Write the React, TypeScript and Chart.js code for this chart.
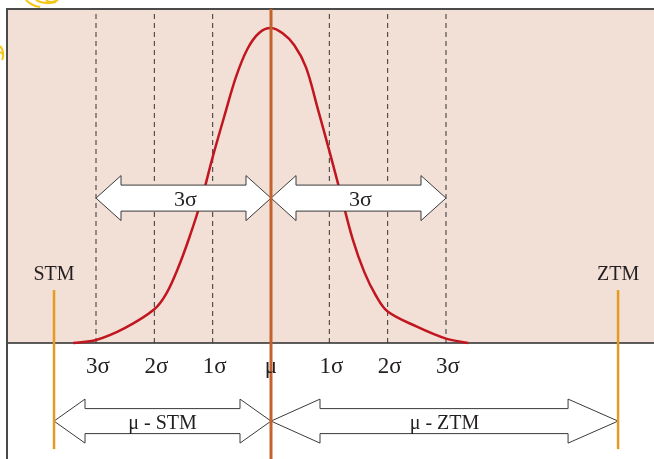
import React, { useEffect, useRef } from "react";
import { Chart, registerables } from "chart.js";

Chart.register(...registerables);

// ---- data (σ units on x, relative density on y) ----
const CURVE_SIGMA = [-3.39, -3.0, -2.5, -2.0, -1.8, -1.6, -1.4, -1.2, -1.0, -0.8, -0.6, -0.4, -0.2, 0, 0.2, 0.4, 0.6, 0.8, 1.0, 1.2, 1.4, 1.6, 1.8, 2.0, 2.5, 3.0, 3.38];
const CURVE_DENSITY = [0, 0.0095, 0.048, 0.107, 0.155, 0.235, 0.335, 0.45, 0.59, 0.72, 0.845, 0.935, 0.985, 1.0, 0.983, 0.945, 0.875, 0.745, 0.61, 0.47, 0.33, 0.225, 0.15, 0.1, 0.052, 0.014, 0];
const SIGMA_POSITIONS = [-3, -2, -1, 0, 1, 2, 3];
const SIGMA_LABELS = ["3σ", "2σ", "1σ", "μ", "1σ", "2σ", "3σ"];
const DASHED_POSITIONS = [-3, -2, -1, 1, 2, 3];
const LIMIT_POSITIONS = [-3.72, 5.95];
const LIMIT_LABELS = ["STM", "ZTM"];
const SPAN_LABELS = ["μ - STM", "μ - ZTM"];
const SIGMA_SPAN_LABEL = "3σ";

// ---- layout constants (in axis units) ----
const X_MIN = -4.646;
const X_MAX = 6.566;
const Y_MIN = -0.3683;
const Y_MAX = 1.0889;
const FRAME_LEFT = -4.526;
const FRAME_TOP = 1.0603;
const LIMIT_TOP = 0.168;
const LIMIT_BOTTOM = -0.337;
const SIGMA_ARROW_Y = 0.46;
const SPAN_ARROW_Y = -0.248;

const SERIF = '"Liberation Serif", "Times New Roman", serif';
const TEXT = "#231f20";

function arrow(ctx: CanvasRenderingContext2D, x0: number, x1: number, yc: number, hl0: number, hl1: number, sh: number, hh: number) {
  ctx.beginPath();
  ctx.moveTo(x0, yc);
  ctx.lineTo(x0 + hl0, yc - hh);
  ctx.lineTo(x0 + hl0, yc - sh);
  ctx.lineTo(x1 - hl1, yc - sh);
  ctx.lineTo(x1 - hl1, yc - hh);
  ctx.lineTo(x1, yc);
  ctx.lineTo(x1 - hl1, yc + hh);
  ctx.lineTo(x1 - hl1, yc + sh);
  ctx.lineTo(x0 + hl0, yc + sh);
  ctx.lineTo(x0 + hl0, yc + hh);
  ctx.closePath();
  ctx.fillStyle = "#ffffff";
  ctx.fill();
  ctx.strokeStyle = "#3a3a3a";
  ctx.lineWidth = 1;
  ctx.stroke();
}

const CURVE_INDEX = 4;

const diagramPlugin = {
  id: "diagram",
  beforeDatasetsDraw(chart: any) {
    const { ctx } = chart;
    const xs = chart.scales.x;
    const ys = chart.scales.y;
    ctx.save();
    ctx.fillStyle = "#f2dfd6";
    const l = xs.getPixelForValue(FRAME_LEFT);
    const t = ys.getPixelForValue(FRAME_TOP);
    const b = ys.getPixelForValue(0);
    ctx.fillRect(l, t, chart.width - l, b - t);
    ctx.restore();
  },
  afterDatasetDraw(chart: any, args: any) {
    if (args.index !== CURVE_INDEX) return;
    const { ctx } = chart;
    const xs = chart.scales.x;
    const ys = chart.scales.y;
    ctx.save();
    const ya = ys.getPixelForValue(SIGMA_ARROW_Y);
    arrow(ctx, xs.getPixelForValue(-3), xs.getPixelForValue(0), ya, 25, 25, 13, 22.5);
    arrow(ctx, xs.getPixelForValue(0), xs.getPixelForValue(3), ya, 25, 25, 13, 22.5);
    const yb = ys.getPixelForValue(SPAN_ARROW_Y);
    arrow(ctx, xs.getPixelForValue(LIMIT_POSITIONS[0]), xs.getPixelForValue(0), yb, 31, 31, 12.5, 22);
    arrow(ctx, xs.getPixelForValue(0), xs.getPixelForValue(LIMIT_POSITIONS[1]), yb, 49, 50, 12.5, 22);
    ctx.restore();
  },
  afterDatasetsDraw(chart: any) {
    const { ctx } = chart;
    const xs = chart.scales.x;
    const ys = chart.scales.y;
    ctx.save();
    ctx.fillStyle = TEXT;
    ctx.textAlign = "center";
    ctx.textBaseline = "alphabetic";
    // sigma tick labels
    ctx.font = "23px " + SERIF;
    const yl = ys.getPixelForValue(-0.0952);
    SIGMA_POSITIONS.forEach((p, i) => {
      const off = p !== 0 ? 2 : 0;
      ctx.fillText(SIGMA_LABELS[i], xs.getPixelForValue(p) + off, yl);
    });
    // 3σ arrow labels
    ctx.font = "22px " + SERIF;
    const ys3 = ys.getPixelForValue(0.435);
    ctx.fillText(SIGMA_SPAN_LABEL, xs.getPixelForValue(-1.5) + 2, ys3);
    ctx.fillText(SIGMA_SPAN_LABEL, xs.getPixelForValue(1.5) + 2, ys3);
    // limit labels
    ctx.font = "20px " + SERIF;
    const yLim = ys.getPixelForValue(0.2);
    LIMIT_POSITIONS.forEach((p, i) => {
      ctx.fillText(LIMIT_LABELS[i], xs.getPixelForValue(p), yLim);
    });
    // span labels
    const ySpan = ys.getPixelForValue(-0.273);
    ctx.fillText(SPAN_LABELS[0], xs.getPixelForValue(LIMIT_POSITIONS[0] / 2), ySpan);
    ctx.fillText(SPAN_LABELS[1], xs.getPixelForValue(LIMIT_POSITIONS[1] / 2), ySpan);
    // small yellow ornament fragments at the top-left corner
    ctx.strokeStyle = "#f5c518";
    ctx.lineWidth = 2;
    ctx.beginPath();
    ctx.moveTo(26, 0);
    ctx.quadraticCurveTo(32, 6, 40, 7);
    ctx.moveTo(36, 0);
    ctx.quadraticCurveTo(44, 5, 56, 2);
    ctx.moveTo(46, 0);
    ctx.quadraticCurveTo(50, 4, 58, 0);
    ctx.moveTo(0, 46);
    ctx.quadraticCurveTo(4, 50, 3, 58);
    ctx.moveTo(0, 52);
    ctx.quadraticCurveTo(5, 54, 2, 60);
    ctx.stroke();
    ctx.restore();
  },
};

export default function App() {
  const ref = useRef<HTMLCanvasElement | null>(null);
  useEffect(() => {
    document.body.style.margin = "0";
    const canvas = ref.current;
    if (!canvas) return;

    const vline = (x: number, y0: number, y1: number) => [
      { x, y: y0 },
      { x, y: y1 },
    ];

    const datasets: any[] = [
      // 0: mu line
      { data: vline(0, Y_MIN, FRAME_TOP), borderColor: "#c4622d", borderWidth: 3 },
      // 1,2: STM/ZTM lines
      { data: vline(LIMIT_POSITIONS[0], LIMIT_BOTTOM, LIMIT_TOP), borderColor: "#e59a22", borderWidth: 2.5 },
      { data: vline(LIMIT_POSITIONS[1], LIMIT_BOTTOM, LIMIT_TOP), borderColor: "#e59a22", borderWidth: 2.5 },
      // 3: frame (top + left border)
      {
        data: [
          { x: X_MAX, y: FRAME_TOP },
          { x: FRAME_LEFT, y: FRAME_TOP },
          { x: FRAME_LEFT, y: Y_MIN },
        ],
        borderColor: "#4a4a4a",
        borderWidth: 2,
      },
      // 4: curve
      {
        data: CURVE_SIGMA.map((x, i) => ({ x, y: CURVE_DENSITY[i] })),
        borderColor: "#c1161f",
        borderWidth: 2.5,
        tension: 0.35,
      },
      // 5: baseline
      {
        data: [
          { x: FRAME_LEFT, y: 0 },
          { x: X_MAX, y: 0 },
        ],
        borderColor: "#2a2a2a",
        borderWidth: 1.5,
      },
      // dashed sigma lines
      ...DASHED_POSITIONS.map((p) => ({
        data: vline(p, 0, FRAME_TOP),
        borderColor: "#333333",
        borderWidth: 1,
        borderDash: [5, 4],
      })),
    ].map((d) => ({ showLine: true, pointRadius: 0, fill: false, ...d }));

    const chart = new Chart(canvas, {
      type: "scatter",
      data: { datasets },
      options: {
        animation: false,
        responsive: false,
        devicePixelRatio: 1,
        layout: { padding: 0 },
        plugins: { legend: { display: false }, tooltip: { enabled: false } },
        scales: {
          x: { type: "linear", min: X_MIN, max: X_MAX, display: false },
          y: { type: "linear", min: Y_MIN, max: Y_MAX, display: false },
        },
      },
      plugins: [diagramPlugin],
    });
    return () => chart.destroy();
  }, []);

  return <canvas ref={ref} width={654} height={459} style={{ display: "block" }} />;
}
